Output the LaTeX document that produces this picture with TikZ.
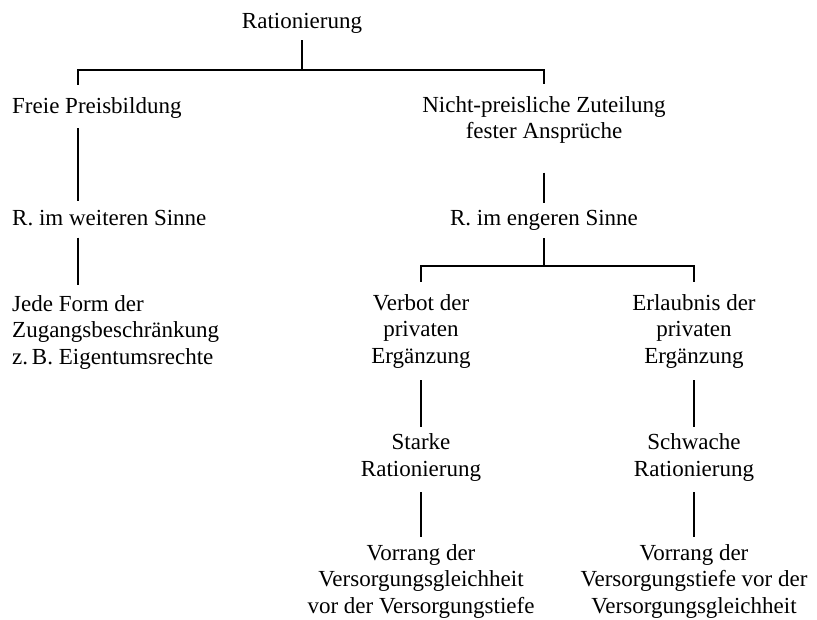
\documentclass[tikz,border=0pt]{standalone}
\usepackage{fontspec}
\setmainfont{Liberation Serif}
\begin{document}
\begin{tikzpicture}[x=1pt,y=1pt,
  lbl/.style={inner sep=0pt, align=center, font=\fontsize{23}{26.5}\selectfont},
  lbll/.style={lbl, align=left},
  conn/.style={line width=1.1pt, black}]
\useasboundingbox (0,0) rectangle (817,-619);
% nodes (anchor base = baseline of the last line)
\node[lbl, anchor=base] (rat) at (302,-28) {Rationierung};
\node[lbll, anchor=base west] (fp) at (12,-113) {Freie Preisbildung};
\node[lbl, anchor=base] (np) at (544,-138.5) {Nicht-preisliche Zuteilung\\fester Ansprüche};
\node[lbll, anchor=base west] (rw) at (12,-225) {R. im weiteren Sinne};
\node[lbl, anchor=base] (re) at (544,-225) {R. im engeren Sinne};
\node[lbll, anchor=base west] (jf) at (12,-364) {Jede Form der\\Zugangsbeschränkung\\z.\,B. Eigentumsrechte};
\node[lbl, anchor=base] (vb) at (421,-363) {Verbot der\\privaten\\Ergänzung};
\node[lbl, anchor=base] (el) at (694,-363) {Erlaubnis der\\privaten\\Ergänzung};
\node[lbl, anchor=base] (st) at (421,-476) {Starke\\Rationierung};
\node[lbl, anchor=base] (sw) at (694,-476) {Schwache\\Rationierung};
\node[lbl, anchor=base] (v1) at (421,-613) {Vorrang der\\Versorgungsgleichheit\\vor der Versorgungstiefe};
\node[lbl, anchor=base] (v2) at (694,-613) {Vorrang der\\Versorgungstiefe vor der\\Versorgungsgleichheit};
% junctions
\coordinate (b0) at (302,-70);
\coordinate (bL) at (78,-70);
\coordinate (bR) at (544,-70);
\coordinate (c0) at (544,-266);
\coordinate (cL) at (421,-266);
\coordinate (cR) at (694,-266);
% connectors
\draw[conn] ([yshift=-7pt]rat.south) -- (b0);
\draw[conn] ([xshift=66pt,yshift=12pt]fp.north west) -- (bL) -- (bR) -- ([yshift=12pt]np.north);
\draw[conn] ([xshift=66pt,yshift=-10pt]fp.south west) -- ([xshift=66pt,yshift=9pt]rw.north west);
\draw[conn] ([yshift=-29pt]np.south) -- ([yshift=7pt]re.north);
\draw[conn] ([xshift=66pt,yshift=-12pt]rw.south west) -- ([xshift=66pt,yshift=10pt]jf.north west);
\draw[conn] ([yshift=-8pt]re.south) -- (c0);
\draw[conn] ([yshift=12pt]vb.north) -- (cL) -- (cR) -- ([yshift=12pt]el.north);
\draw[conn] ([yshift=-12pt]vb.south) -- ([yshift=6pt]st.north);
\draw[conn] ([yshift=-12pt]el.south) -- ([yshift=6pt]sw.north);
\draw[conn] ([yshift=-11pt]st.south) -- ([yshift=7pt]v1.north);
\draw[conn] ([yshift=-11pt]sw.south) -- ([yshift=7pt]v2.north);
\end{tikzpicture}
\end{document}
